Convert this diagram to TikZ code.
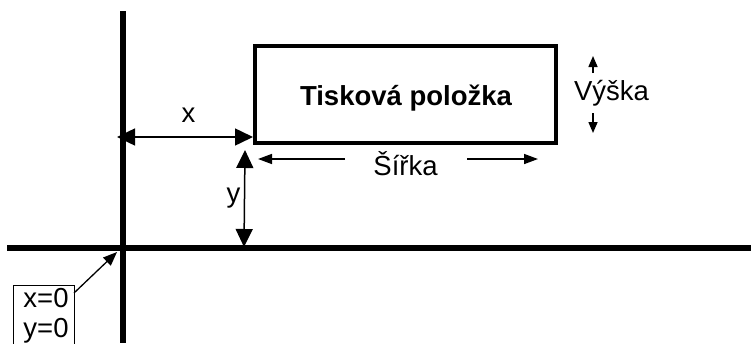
\documentclass[tikz,border=0pt]{standalone}
\usepackage{fontspec}
\setmainfont{Liberation Sans}
\usetikzlibrary{arrows.meta}
\begin{document}
\begin{tikzpicture}[x=1pt,y=-1pt,
  axis/.style={line width=6pt},
  bigarrow/.style={line width=1.5pt,{Triangle[length=18pt,width=17pt]}-{Triangle[length=18pt,width=17pt]}},
  widtharrow/.style={line width=1.5pt,-{Triangle[length=14pt,width=10pt]}},
  heightarrow/.style={line width=1.5pt,-{Triangle[length=11pt,width=9pt]}},
  lbl/.style={font=\fontsize{27.5}{32}\selectfont, inner sep=0pt, anchor=base}]
\useasboundingbox (0,0) rectangle (751,343);
\clip (0,0) rectangle (751,343);
% axes
\coordinate (vtop) at (123,11);
\coordinate (vbot) at (123,343);
\coordinate (hl) at (7,248);
\coordinate (hr) at (751,248);
\draw[axis] (vtop) -- (vbot);
\draw[axis] (hl) -- (hr);
% item
\node[draw, line width=4pt, minimum width=301pt, minimum height=97pt, inner sep=0pt] (item) at (405.5,94.5) {};
\node[lbl, font=\fontsize{27.5}{32}\selectfont\bfseries] (itemtxt) at (406,105) {Tisková položka};
% x distance
\coordinate (xa) at (117,137);
\coordinate (xb) at (253,137);
\draw[bigarrow] (xa) -- (xb);
\node[lbl] (xl) at (188.5,122) {x};
% y distance
\coordinate (ya) at (245,150);
\coordinate (yb) at (244,247);
\draw[bigarrow] (ya) -- (yb);
\node[lbl] (yl) at (233.5,202) {y};
% width
\node[lbl] (sirka) at (405.5,175) {Šířka};
\coordinate (sl0) at (345,159);
\coordinate (sl1) at (258,159);
\coordinate (sr0) at (467,159);
\coordinate (sr1) at (538,159);
\draw[widtharrow] (sl0) -- (sl1);
\draw[widtharrow] (sr0) -- (sr1);
% height
\node[lbl] (vyska) at (611.5,100) {Výška};
\coordinate (vu0) at (593,73);
\coordinate (vu1) at (593,56);
\coordinate (vd0) at (593,113);
\coordinate (vd1) at (593,133);
\draw[heightarrow] (vu0) -- (vu1);
\draw[heightarrow] (vd0) -- (vd1);
% origin box
\node[draw, line width=1.3pt, minimum width=61pt, minimum height=80pt, inner sep=0pt, anchor=north west] (orig) at (13,285) {};
\node[lbl] (ox) at (46,307) {x=0};
\node[lbl] (oy) at (46,337) {y=0};
\coordinate (oa) at (74,293);
\coordinate (ob) at (117,252);
\draw[line width=1.3pt,-{Triangle[length=14pt,width=11pt]}] (oa) -- (ob);
\end{tikzpicture}
\end{document}
